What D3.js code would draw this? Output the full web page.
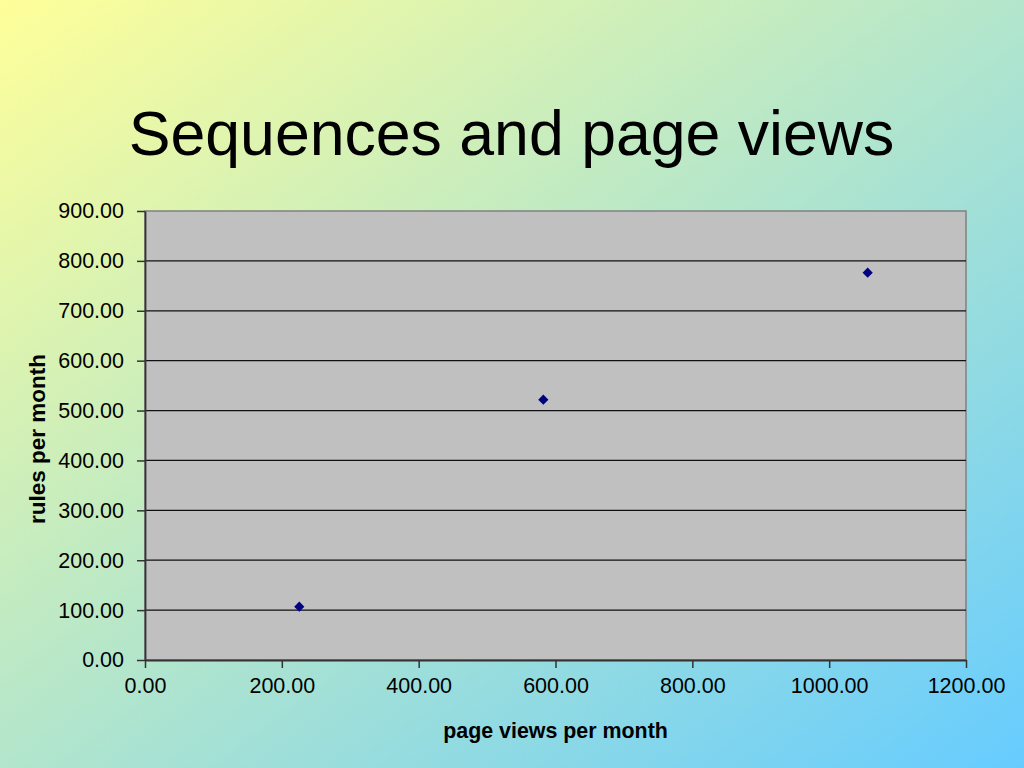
<!DOCTYPE html>
<html>
<head>
<meta charset="utf-8">
<script src="https://cdn.jsdelivr.net/npm/d3@7"></script>
<style>
  html, body { margin: 0; padding: 0; overflow: hidden; }
  svg { display: block; font-family: "Liberation Sans", Arial, sans-serif; }
</style>
</head>
<body>
<svg width="1024" height="768"></svg>
<script>
// data
var pageViews = [225.5, 582.2, 1056.3];
var rulesPerMonth = [106.8, 521.8, 776.3];
var xTicks = [0, 200, 400, 600, 800, 1000, 1200];
var yTicks = [0, 100, 200, 300, 400, 500, 600, 700, 800, 900];

var svg = d3.select("svg"),
    width = +svg.attr("width"),
    height = +svg.attr("height");

var margin = {left: 145, right: 1024 - 966, top: 211, bottom: 768 - 660};

// slide background
var grad = svg.append("defs").append("linearGradient")
    .attr("id", "bg")
    .attr("x1", 0).attr("y1", 0).attr("x2", 1).attr("y2", 1);
grad.append("stop").attr("offset", "0%").attr("stop-color", "#ffff99");
grad.append("stop").attr("offset", "100%").attr("stop-color", "#66ccff");

svg.append("rect")
    .attr("width", width)
    .attr("height", height)
    .attr("fill", "url(#bg)");

svg.append("text")
    .attr("x", 511.5)
    .attr("y", 155)
    .attr("text-anchor", "middle")
    .attr("font-size", 62.6)
    .attr("fill", "#000")
    .text("Sequences and page views");

var x = d3.scaleLinear().domain([0, 1200]).range([margin.left, width - margin.right]);
var y = d3.scaleLinear().domain([0, 900]).range([height - margin.bottom, margin.top]);

// plot area
svg.append("rect")
    .attr("x", x(0))
    .attr("y", y(900))
    .attr("width", x(1200) - x(0))
    .attr("height", y(0) - y(900))
    .attr("fill", "#c0c0c0")
    .attr("stroke", "#808080")
    .attr("stroke-width", 1.5);

// gridlines
svg.append("g")
    .selectAll("line")
    .data(yTicks.filter(function(d) { return d > 0 && d < 900; }))
    .enter().append("line")
    .attr("x1", x(0))
    .attr("x2", x(1200))
    .attr("y1", function(d) { return y(d); })
    .attr("y2", function(d) { return y(d); })
    .attr("stroke", "#111")
    .attr("stroke-width", 1.2);

var fmt = d3.format(".2f");

var xAxis = svg.append("g")
    .attr("transform", "translate(0," + y(0) + ")")
    .call(d3.axisBottom(x).tickValues(xTicks).tickFormat(fmt).tickSize(8).tickPadding(10).tickSizeOuter(0));

var yAxis = svg.append("g")
    .attr("transform", "translate(" + x(0) + ",0)")
    .call(d3.axisLeft(y).tickValues(yTicks).tickFormat(fmt).tickSize(8).tickPadding(13).tickSizeOuter(0));

[xAxis, yAxis].forEach(function(a) {
    a.attr("font-family", null).attr("font-size", 21.5);
    a.select(".domain").attr("stroke", "#333").attr("stroke-width", 1.8);
    a.selectAll(".tick line").attr("stroke", "#333").attr("stroke-width", 1.5);
    a.selectAll(".tick text").attr("fill", "#000");
});

// axis titles
svg.append("text")
    .attr("x", 555.5)
    .attr("y", 738)
    .attr("text-anchor", "middle")
    .attr("font-size", 21.4)
    .attr("font-weight", "bold")
    .text("page views per month");

svg.append("text")
    .attr("transform", "translate(45,439) rotate(-90)")
    .attr("text-anchor", "middle")
    .attr("font-size", 22.5)
    .attr("font-weight", "bold")
    .text("rules per month");

// points
svg.append("g")
    .selectAll("path")
    .data(pageViews)
    .enter().append("path")
    .attr("d", d3.symbol().type(d3.symbolSquare).size(52))
    .attr("transform", function(d, i) {
        return "translate(" + x(d) + "," + y(rulesPerMonth[i]) + ") rotate(45)";
    })
    .attr("fill", "#000080");
</script>
</body>
</html>
